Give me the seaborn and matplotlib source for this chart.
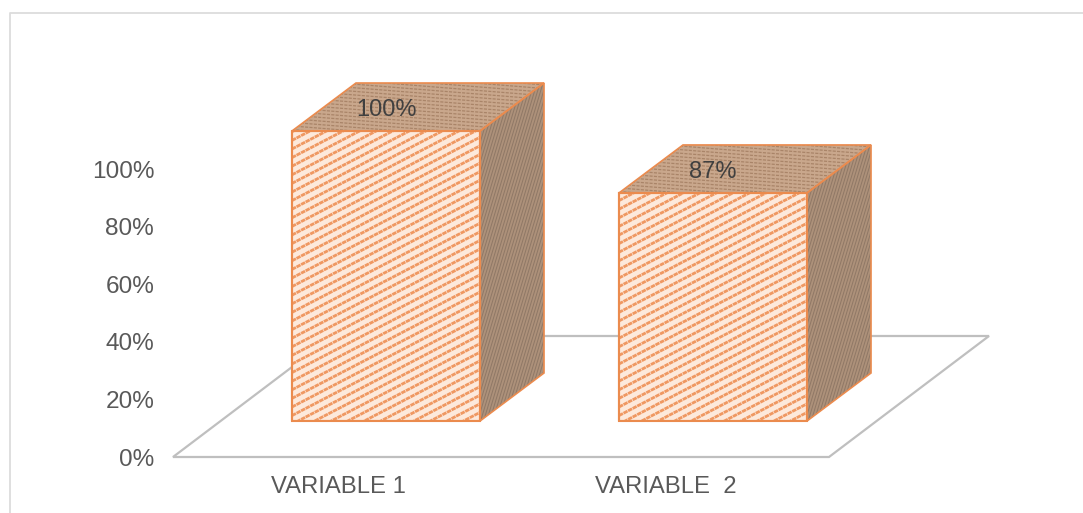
import numpy as np
import pandas as pd
import seaborn as sns
import matplotlib
matplotlib.use("Agg")
import matplotlib.pyplot as plt
from matplotlib.collections import LineCollection
from matplotlib.lines import Line2D
from matplotlib.patches import Polygon
from matplotlib.transforms import IdentityTransform

categories = ["VARIABLE 1", "VARIABLE  2"]
values = [100, 87]
y_ticks = [0, 20, 40, 60, 80, 100]

W, H = 1083, 513
EDGE = "#EB8B4E"
TEXT = "#595959"
LABEL = "#404040"
GRID = "#BFBFBF"
FRAME = "#DCDCDC"

# Oblique depth of the boxes and of the floor, in pixels
BOX_DX, BOX_DY = 64, 48
FLOOR_DX, FLOOR_DY = 160, 121
# Exponent of the foreshortened scale used by the box fronts
FORESHORTEN = 1.726

sns.set_theme(style="white")
plt.rcParams["font.family"] = ["Liberation Sans", "DejaVu Sans"]

fig = plt.figure(figsize=(W / 100, H / 100), dpi=100, facecolor="white")


def axes_rect(left, right, top, bottom):
    return [left / W, 1 - bottom / H, (right - left) / W, (bottom - top) / H]


def disp(x, y):
    """Pixel position measured from the top-left corner, as display coordinates."""
    return (x, H - y)


# Outer chart border: only the left and top sides are visible
fig.add_artist(Line2D([9.5, 9.5, W], [0, H - 12.5, H - 12.5], transform=IdentityTransform(),
                      color=FRAME, lw=1.3))

# Value axis and category labels
ax = fig.add_axes(axes_rect(175, 829, 169, 457))
ax.set_xlim(-0.5, 1.5)
ax.set_ylim(0, 100)
ax.set_xticks(range(len(categories)), categories)
ax.set_yticks(y_ticks, [f"{t}%" for t in y_ticks])
ax.tick_params(axis="y", length=0, pad=15, labelsize=17.6, labelcolor=TEXT)
ax.tick_params(axis="x", length=0, pad=14, labelsize=17.2, labelcolor=TEXT)
for spine in ax.spines.values():
    spine.set_visible(False)
ax.patch.set_alpha(0)

# Floor plane under the boxes
x0, y0 = 173, 457
x1 = 829
floor = Polygon(
    [disp(x0, y0), disp(x1, y0), disp(x1 + FLOOR_DX, y0 - FLOOR_DY), disp(x0 + FLOOR_DX, y0 - FLOOR_DY)],
    closed=True, transform=IdentityTransform(), facecolor="none", edgecolor=GRID, lw=1.6,
    clip_on=False, joinstyle="miter")
ax.add_patch(floor)

# Box fronts, drawn with seaborn on a foreshortened value scale
ax_bar = fig.add_axes(axes_rect(222.5, 876.5, 131, 421))
frame = pd.DataFrame({"variable": categories, "value": values})
sns.barplot(data=frame, x="variable", y="value", ax=ax_bar, width=0.575,
            color="#FDE9DB", saturation=1, edgecolor=EDGE, linewidth=1.5)
ax_bar.set_yscale("function",
                  functions=(lambda v: np.power(np.clip(v, 0, None), FORESHORTEN),
                             lambda v: np.power(np.clip(v, 0, None), 1 / FORESHORTEN)))
ax_bar.set_xlim(-0.5, 1.5)
ax_bar.set_ylim(0, 100)
ax_bar.axis("off")


def add_strokes(segments, patch, color, lw, style, zorder):
    """Add strokes clipped only to the outline of one face."""
    lc = LineCollection(segments, colors=color, linewidths=lw, linestyles=style,
                        transform=IdentityTransform(), zorder=zorder)
    ax_bar.add_collection(lc, autolim=False)
    lc.set_clip_box(fig.bbox)
    lc.set_clip_path(patch)


def stripes(patch, bounds, spacing, slope, color, lw, dashes, zorder):
    """Parallel dashed strokes across a face."""
    xa, xb, ya, yb = bounds
    span = (xb - xa) * abs(slope)
    offsets = np.arange(ya - span - spacing, yb + span + spacing, spacing)
    segs = [[(xa, c), (xb, c + slope * (xb - xa))] for c in offsets]
    add_strokes(segs, patch, color, lw, [(0, dashes)], zorder)


def slanted_stripes(patch, bounds, spacing, dx_per_dy, color, lw, zorder):
    """Steep strokes for the side faces."""
    xa, xb, ya, yb = bounds
    reach = (yb - ya) * abs(dx_per_dy)
    offsets = np.arange(xa - reach, xb + reach, spacing)
    segs = [[(c, ya), (c + dx_per_dy * (yb - ya), yb)] for c in offsets]
    add_strokes(segs, patch, color, lw, "solid", zorder)


fig.canvas.draw()
for bar, value in zip(list(ax_bar.patches), values):
    box = bar.get_window_extent()
    l, r, b, t = box.x0, box.x1, box.y0, box.y1
    bar.set_zorder(3)

    # Front face stripes
    stripes(bar, (l, r, b, t), 8.6, 0.52, "#EF9862", 2.0, (1.6, 0.25), 3.2)
    ax_bar.add_patch(Polygon([(l, b), (r, b), (r, t), (l, t)], closed=True,
                             transform=IdentityTransform(), facecolor="none", edgecolor=EDGE,
                             lw=1.5, zorder=3.4, clip_on=False))

    # Top face
    top = Polygon([(l, t), (r, t), (r + BOX_DX, t + BOX_DY), (l + BOX_DX, t + BOX_DY)], closed=True,
                  transform=IdentityTransform(), facecolor="#C9A78C", edgecolor="none",
                  zorder=2.5, clip_on=False)
    ax_bar.add_patch(top)
    stripes(top, (l, r + BOX_DX, t, t + BOX_DY), 3.6, -0.08, "#A98468", 0.9, (2.5, 1.0), 2.6)

    # Side face
    side = Polygon([(r, b), (r + BOX_DX, b + BOX_DY), (r + BOX_DX, t + BOX_DY), (r, t)], closed=True,
                   transform=IdentityTransform(), facecolor="#AD917A", edgecolor="none",
                   zorder=2.5, clip_on=False)
    ax_bar.add_patch(side)
    slanted_stripes(side, (r, r + BOX_DX, b, t + BOX_DY), 3.0, 0.3, "#8F7866", 0.7, 2.6)

    # Face outlines sit above the strokes
    for artist in (top, side):
        ax_bar.add_patch(Polygon(artist.get_xy(), closed=True, transform=IdentityTransform(),
                                 facecolor="none", edgecolor=EDGE, lw=1.2, zorder=2.9, clip_on=False))

# Value labels on the top faces
for i, value in enumerate(values):
    ax_bar.annotate(f"{value}%", xy=(i, value), xytext=(0, 15.3), textcoords="offset points",
                    ha="center", va="center", fontsize=17, color=LABEL, zorder=5,
                    annotation_clip=False)

fig.savefig("out.png", dpi=100, facecolor="white")
